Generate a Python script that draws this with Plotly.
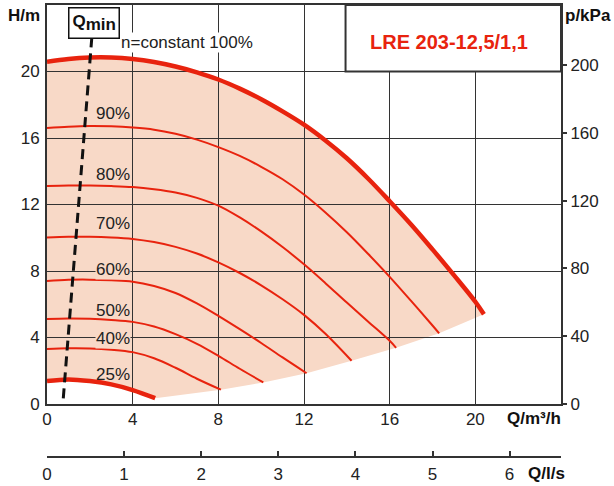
import plotly.graph_objects as go

# ---------------- data ----------------
q_100 = [0, 1, 2, 3, 4, 5, 6, 7, 8, 9, 10, 11, 12, 13, 14, 15, 16, 17, 18, 19, 20, 20.4]
h_100 = [20.58, 20.75, 20.84, 20.84, 20.75, 20.57, 20.3, 19.95, 19.52, 18.97, 18.33, 17.6, 16.8,
         15.85, 14.78, 13.55, 12.2, 10.8, 9.3, 7.75, 6.15, 5.4]
q_90 = [0, 1, 2, 3, 4, 5, 6, 7, 8, 9, 10, 11, 12, 13, 14, 15, 16, 17, 18, 18.31]
h_90 = [16.6, 16.68, 16.72, 16.7, 16.63, 16.5, 16.25, 15.9, 15.45, 14.92, 14.27, 13.52, 12.6,
        11.52, 10.33, 9.02, 7.65, 6.2, 4.72, 4.25]
q_80 = [0, 1, 2, 3, 4, 5, 6, 7, 8, 9, 10, 11, 12, 13, 14, 15, 16, 16.3]
h_80 = [13.11, 13.14, 13.14, 13.11, 13.05, 12.92, 12.72, 12.4, 11.93, 11.22, 10.38, 9.44, 8.4,
        7.27, 6.1, 4.95, 3.8, 3.38]
q_70 = [0, 1, 2, 3, 4, 5, 6, 7, 8, 9, 10, 11, 12, 13, 14.22]
h_70 = [10.02, 10.06, 10.06, 10.02, 9.93, 9.74, 9.45, 9.05, 8.52, 7.88, 7.14, 6.3, 5.36, 4.22, 2.6]
q_60 = [0, 1, 2, 3, 4, 5, 6, 7, 8, 9, 10, 11, 12.12]
h_60 = [7.4, 7.47, 7.48, 7.44, 7.36, 7.1, 6.68, 6.05, 5.3, 4.5, 3.67, 2.8, 1.85]
q_50 = [0, 1, 2, 3, 4, 5, 6, 7, 8, 9, 10.1]
h_50 = [5.12, 5.15, 5.13, 5.06, 4.94, 4.66, 4.2, 3.62, 2.9, 2.12, 1.3]
q_40 = [0, 1, 2, 3, 4, 5, 6, 7, 8.12]
h_40 = [3.31, 3.35, 3.34, 3.27, 3.12, 2.75, 2.18, 1.52, 0.86]
q_25 = [0, 1, 2, 3, 4, 5.05]
h_25 = [1.38, 1.48, 1.38, 1.18, 0.84, 0.35]

qmin_q = [0.76, 2.09]
qmin_h = [0.34, 22.0]

speed_labels = ["90%", "80%", "70%", "60%", "50%", "40%", "25%"]
h_ticks = [0, 4, 8, 12, 16, 20]
q_ticks = [0, 4, 8, 12, 16, 20]
p_ticks = [0, 40, 80, 120, 160, 200]
qls_ticks = [0, 1, 2, 3, 4, 5, 6]

title_text = "LRE 203-12,5/1,1"
curve_note = "n=constant 100%"

# ---------------- style ----------------
RED = "#E8230E"
FILL = "rgb(248,217,199)"
DARK = "#333333"
FONT = "Liberation Sans, Arial, sans-serif"
H_MAX = 24
Q_MAX = 24
KPA_PER_M = 9.81
LS_PER_M3H = 1 / 3.6

fig = go.Figure()

# fill region (shape below the gridlines)
top = list(zip(q_100, h_100))
ends = [(q[-1], h[-1]) for q, h in [(q_90, h_90), (q_80, h_80), (q_70, h_70),
                                    (q_60, h_60), (q_50, h_50), (q_40, h_40)]]
bottom = list(zip(q_25, h_25))[::-1]
poly = top + ends + bottom
path = "M " + " L ".join(f"{q},{h}" for q, h in poly) + " Z"
fig.add_shape(type="path", path=path, xref="x", yref="y", layer="below",
              fillcolor=FILL, line=dict(width=0))

curves = [(q_100, h_100, 4.5), (q_90, h_90, 2), (q_80, h_80, 2), (q_70, h_70, 2),
          (q_60, h_60, 2), (q_50, h_50, 2), (q_40, h_40, 2), (q_25, h_25, 4.5)]
for q, h, w in curves:
    fig.add_trace(go.Scatter(x=q, y=h, mode="lines", line=dict(color=RED, width=w, shape="spline"),
                             showlegend=False, hoverinfo="skip"))

fig.add_trace(go.Scatter(x=qmin_q, y=qmin_h, mode="lines",
                         line=dict(color="#111111", width=3, dash="10px,6px"),
                         showlegend=False, hoverinfo="skip"))

# dummy traces to activate secondary axes
fig.add_trace(go.Scatter(x=[None], y=[None], yaxis="y2", showlegend=False, hoverinfo="skip"))
fig.add_trace(go.Scatter(x=[None], y=[None], xaxis="x2", showlegend=False, hoverinfo="skip"))

# title box
fig.add_shape(type="rect", xref="x", yref="y", x0=13.94, x1=Q_MAX, y0=20, y1=H_MAX,
              layer="above", fillcolor="white", line=dict(color=DARK, width=2))

ann = []
label_h = [17.48, 13.81, 10.84, 8.1, 5.6, 3.92, 1.79]
for t, hy in zip(speed_labels, label_h):
    ann.append(dict(x=3.06, y=hy, xref="x", yref="y", text=t, showarrow=False,
                    font=dict(size=17, color="#222", family=FONT),
                    bgcolor=FILL if t in ("60%", "40%") else None, borderpad=0))
ann.append(dict(x=3.41, y=21.73, xref="x", yref="y", text=curve_note, xanchor="left", showarrow=False,
                font=dict(size=17, color="#222", family=FONT), bgcolor="white", borderpad=0))
ann.append(dict(x=18.75, y=21.8, xref="x", yref="y", text=f"<b>{title_text}</b>", showarrow=False,
                font=dict(size=20, color=RED, family=FONT)))
ann.append(dict(x=2.19, y=22.92, xref="x", yref="y",
                text="<b>Q<sub><span style='font-size:17px'>min</span></sub></b>", showarrow=False,
                font=dict(size=17, color="#111", family=FONT), bgcolor="white",
                bordercolor="#111", borderwidth=1.5, borderpad=3))

# axis titles (paper coords: plot x 47..561, paper y 5..457)
def px_to_paper(px, py):
    return (px - 47) / 514, 1 - (py - 5) / 452

for txt, px, py in [("<b>H/m</b>", 42, 15), ("<b>p/kPa</b>", 613, 15),
                    ("<b>Q/m³/h</b>", 563, 418), ("<b>Q/l/s</b>", 567, 474)]:
    X, Y = px_to_paper(px, py)
    ann.append(dict(x=X, y=Y, xref="paper", yref="paper", text=txt, xanchor="right", yanchor="middle",
                    showarrow=False, font=dict(size=17, color="#111", family=FONT)))

fig.update_layout(
    width=614, height=486,
    margin=dict(l=47, r=53, t=5, b=29, autoexpand=False),
    paper_bgcolor="white", plot_bgcolor="white",
    font=dict(family=FONT, size=17, color="#222"),
    annotations=ann,
    xaxis=dict(range=[0, Q_MAX], tickvals=q_ticks, showgrid=True, gridcolor=DARK, gridwidth=1.2,
               showline=True, mirror=True, linecolor=DARK, linewidth=2, ticks="", zeroline=False,
               domain=[0, 1], ticklabelstandoff=-1, automargin=False),
    yaxis=dict(range=[0, H_MAX], tickvals=h_ticks, showgrid=True, gridcolor=DARK, gridwidth=1.2,
               showline=True, mirror=True, linecolor=DARK, linewidth=2, ticks="", zeroline=False,
               domain=[(457 - 404) / 452, 1], ticklabelstandoff=2, automargin=False),
    yaxis2=dict(range=[0, H_MAX * KPA_PER_M], tickvals=p_ticks, overlaying="y", side="right",
                anchor="x", showgrid=False, zeroline=False, ticks="outside", ticklen=5,
                tickwidth=2, tickcolor=DARK, showline=False, automargin=False),
    xaxis2=dict(range=[0, Q_MAX * LS_PER_M3H], tickvals=qls_ticks, overlaying="x", anchor="free",
                position=0, side="bottom", showgrid=False, zeroline=False, ticks="inside",
                ticklen=5, tickwidth=2, tickcolor=DARK, showline=True, linecolor=DARK, linewidth=2,
                ticklabelstandoff=2, automargin=False),
)

fig.write_html("out.html", config={"displayModeBar": False},
               post_script="document.body.style.margin='0px';")
